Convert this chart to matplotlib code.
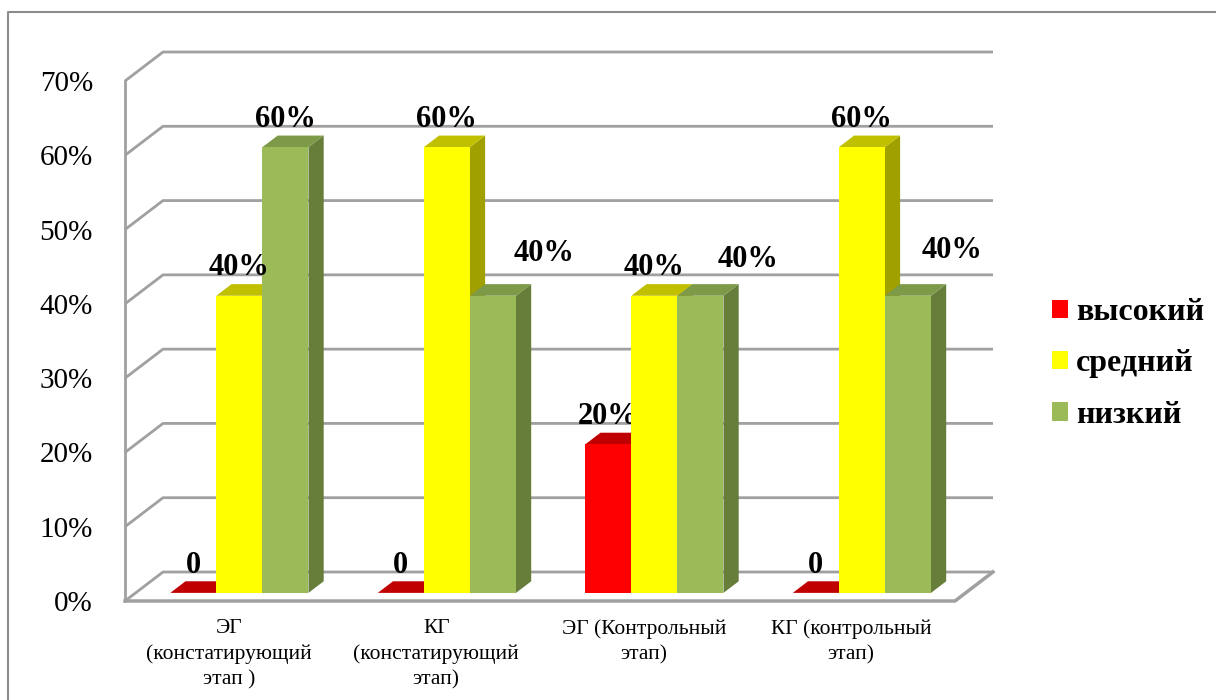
import numpy as np
import matplotlib.pyplot as plt
from matplotlib.patches import Polygon, Patch
from matplotlib.lines import Line2D

plt.rcParams['font.family'] = ['Liberation Serif', 'DejaVu Serif']

# Данные: уровни по группам и этапам
groups = ["ЭГ\n(констатирующий\nэтап )", "КГ\n(констатирующий\nэтап)",
          "ЭГ (Контрольный\nэтап)", "КГ (контрольный\nэтап)"]
levels = ["высокий", "средний", "низкий"]
high = [0, 0, 20, 0]
medium = [40, 60, 40, 60]
low = [60, 40, 40, 40]
yticks = [0, 10, 20, 30, 40, 50, 60, 70]

# сдвиги подписей (в пикселях) для рядов «низкий», чтобы не наезжали
low_label_shift = [(0, 0), (51, 14), (48, 8), (44, 17)]

# цвета: лицевая грань, верх, бок
front_c = ["#FF0000", "#FFFF00", "#9BBB59"]
top_c = ["#C00000", "#C0C000", "#7D9A48"]
side_c = ["#B00000", "#A0A000", "#677D3A"]
grid_c = "#A0A0A0"

fig = plt.figure(figsize=(12.16, 7), dpi=100)
ax = fig.add_axes([125 / 1216, 99 / 700, 830 / 1216, 520 / 700])
ax.set_xlim(0, 4)
ax.set_ylim(0, 70)

# смещение «глубины» псевдо-3D
DX = 38 / 207.5
DY = 29 / (520 / 70)

# стенка и пол
for t in yticks:
    ax.plot([0, DX, 4 + DX], [t, t + DY, t + DY], color=grid_c, lw=2,
            clip_on=False, zorder=1, solid_capstyle='butt')
ax.plot([0, 0], [0, 70], color=grid_c, lw=2, clip_on=False, zorder=1)
ax.plot([0, 4, 4 + DX], [0, 0, DY], color=grid_c, lw=2.5, clip_on=False, zorder=1)

# столбики
w = 0.222
d0, d1 = 0.28, 0.68
series = [high, medium, low]
z = 2
for i in range(len(groups)):
    for k, vals in enumerate(series):
        v = vals[i]
        xl = i + 0.5 + (k - 1.5) * w
        xr = xl + w
        fx0, fy0 = d0 * DX, d0 * DY
        fx1, fy1 = d1 * DX, d1 * DY
        if v > 0:
            ax.add_patch(Polygon([(xr + fx0, fy0), (xr + fx1, fy1),
                                  (xr + fx1, v + fy1), (xr + fx0, v + fy0)],
                                 closed=True, fc=side_c[k], ec='none',
                                 clip_on=False, zorder=z))
            ax.bar(xl + fx0, v, width=w, bottom=fy0, align='edge',
                   color=front_c[k], clip_on=False, zorder=z + 1)
        ax.add_patch(Polygon([(xl + fx0, v + fy0), (xr + fx0, v + fy0),
                              (xr + fx1, v + fy1), (xl + fx1, v + fy1)],
                             closed=True, fc=top_c[k], ec='none',
                             clip_on=False, zorder=z))
        label = "0" if v == 0 else f"{v}%"
        sx, sy = low_label_shift[i] if k == 2 else (0, 0)
        ax.annotate(label, (xl + fx0 + w / 2, v + fy0),
                    xytext=(sx * 0.72, 20 + sy * 0.72),
                    textcoords='offset points', ha='center', va='center',
                    fontsize=22, fontweight='bold', zorder=10,
                    annotation_clip=False)
        z += 2

# оси
ax.set_yticks(yticks)
ax.set_yticklabels([f"{t}%" for t in yticks], fontsize=21)
ax.set_xticks(np.arange(len(groups)) + 0.5)
ax.set_xticklabels(groups, fontsize=15.5, linespacing=1.42)
ax.tick_params(axis='y', length=0, pad=23)
ax.tick_params(axis='x', length=0, pad=13)
for s in ax.spines.values():
    s.set_visible(False)
ax.patch.set_visible(False)

# легенда
handles = [Patch(facecolor=c, edgecolor='none') for c in front_c]
leg = fig.legend(handles, levels, loc='center left',
                 bbox_to_anchor=(1052 / 1216, 1 - 364 / 700), frameon=False,
                 prop={'size': 23, 'weight': 'bold'}, handlelength=0.5,
                 handleheight=0.5, handletextpad=0.25, labelspacing=0.7,
                 borderaxespad=0, borderpad=0)

# рамка диаграммы
fig.add_artist(Line2D([8 / 1216, 8 / 1216, 1], [0, 1 - 12 / 700, 1 - 12 / 700],
                      transform=fig.transFigure, color="#8C8C8C", lw=1.5))

fig.savefig("out.png", dpi=100)
